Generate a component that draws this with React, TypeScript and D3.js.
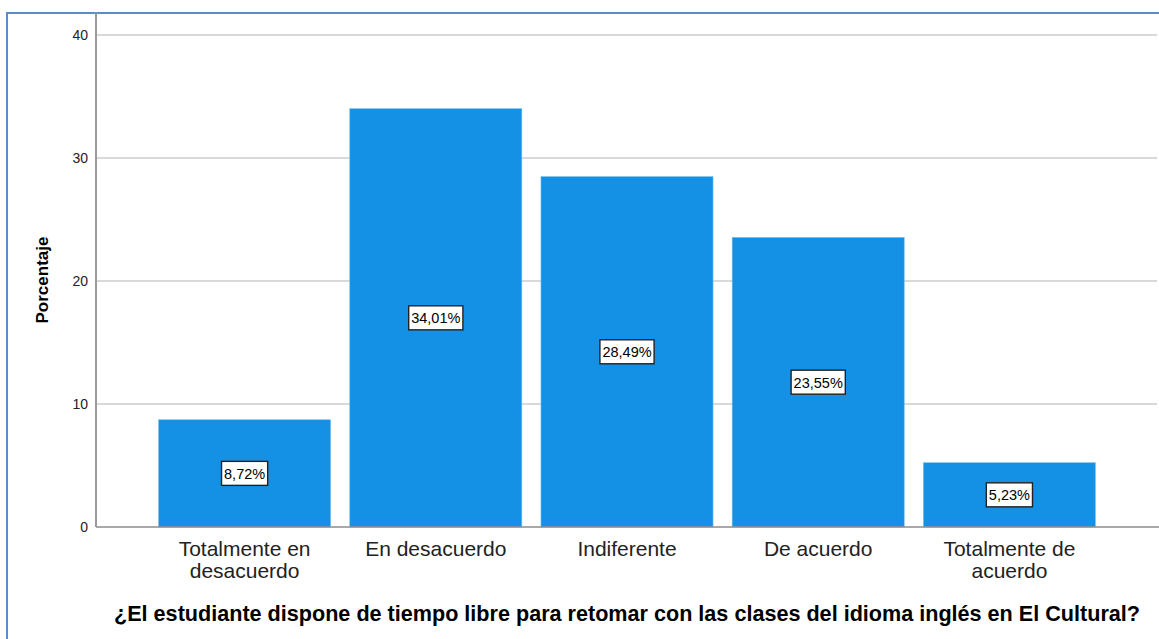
import React, { useEffect, useRef } from 'react';
import * as d3 from 'd3';

const categories = ['Totalmente en\ndesacuerdo', 'En desacuerdo', 'Indiferente', 'De acuerdo', 'Totalmente de\nacuerdo'];
const percentages = [8.72, 34.01, 28.49, 23.55, 5.23];
const yTicks = [0, 10, 20, 30, 40];

const W = 1159;
const H = 639;
const FONT = 'Arial, Liberation Sans, sans-serif';

const App = () => {
  const ref = useRef<SVGSVGElement>(null);

  useEffect(() => {
    const svg = d3.select(ref.current);
    svg.selectAll('*').remove();

    const left = 96;
    const right = 1157;
    const top = 35;
    const bottom = 527;

    const x = d3.scaleBand()
      .domain(categories)
      .range([149, 1105])
      .paddingInner(0.1)
      .paddingOuter(0.05);
    const y = d3.scaleLinear().domain([0, 40]).range([bottom, top]);

    // frame
    svg.append('path')
      .attr('d', `M7,${H + 5} L7,13 L${W + 5},13`)
      .attr('fill', 'none')
      .attr('stroke', '#5b8ccb')
      .attr('stroke-width', 2);

    // grid
    svg.append('g')
      .selectAll('line')
      .data(yTicks.filter(t => t > 0))
      .enter()
      .append('line')
      .attr('x1', left)
      .attr('x2', right)
      .attr('y1', d => y(d))
      .attr('y2', d => y(d))
      .attr('stroke', '#d9d9d9')
      .attr('stroke-width', 2);

    // bars
    svg.append('g')
      .selectAll('rect')
      .data(percentages)
      .enter()
      .append('rect')
      .attr('x', (d, i) => x(categories[i]))
      .attr('y', d => y(d))
      .attr('width', x.bandwidth())
      .attr('height', d => bottom - y(d))
      .attr('fill', '#1490e4')
      .attr('stroke', '#7cc0ee')
      .attr('stroke-width', 0.6);

    // axes
    svg.append('line')
      .attr('x1', left).attr('x2', W)
      .attr('y1', bottom).attr('y2', bottom)
      .attr('stroke', '#8c8c8c').attr('stroke-width', 1.5);
    svg.append('line')
      .attr('x1', left).attr('x2', left)
      .attr('y1', 13).attr('y2', bottom)
      .attr('stroke', '#9a9a9a').attr('stroke-width', 2);

    svg.append('g')
      .selectAll('text')
      .data(yTicks)
      .enter()
      .append('text')
      .attr('x', 88)
      .attr('y', d => y(d) + 5)
      .attr('text-anchor', 'end')
      .attr('font-family', FONT)
      .attr('font-size', 14)
      .attr('fill', '#222')
      .text(d => d);

    // bar labels
    const fmt = (v: number) => v.toFixed(2).replace('.', ',') + '%';
    const lbl = svg.append('g')
      .selectAll('g')
      .data(percentages)
      .enter()
      .append('g')
      .attr('transform', (d, i) => `translate(${x(categories[i])! + x.bandwidth() / 2},${(y(d) + bottom) / 2})`);
    const box = lbl.append('rect')
      .attr('y', -12)
      .attr('height', 24)
      .attr('fill', '#fff')
      .attr('stroke', '#222')
      .attr('stroke-width', 1.4);
    const txt = lbl.append('text')
      .attr('y', 5.5)
      .attr('text-anchor', 'middle')
      .attr('font-family', FONT)
      .attr('font-size', 14.5)
      .attr('fill', '#000')
      .text(d => fmt(d));
    txt.each(function (d, i) {
      const w = (this as SVGTextElement).getComputedTextLength() + 5;
      d3.select(box.nodes()[i]).attr('x', -w / 2).attr('width', w);
    });

    // category labels
    const cat = svg.append('g')
      .selectAll('text')
      .data(categories)
      .enter()
      .append('text')
      .attr('y', 556)
      .attr('text-anchor', 'middle')
      .attr('font-family', FONT)
      .attr('font-size', 21)
      .attr('fill', '#222');
    cat.each(function (d) {
      const t = d3.select(this);
      d.split('\n').forEach((line, i) => {
        t.append('tspan')
          .attr('x', x(d)! + x.bandwidth() / 2)
          .attr('dy', i === 0 ? 0 : 22)
          .text(line);
      });
    });

    // titles
    svg.append('text')
      .attr('transform', `translate(48,${(top + bottom) / 2 - 1}) rotate(-90)`)
      .attr('text-anchor', 'middle')
      .attr('font-family', FONT)
      .attr('font-size', 17)
      .attr('font-weight', 'bold')
      .attr('fill', '#000')
      .text('Porcentaje');

    svg.append('text')
      .attr('x', 627)
      .attr('y', 621)
      .attr('text-anchor', 'middle')
      .attr('font-family', FONT)
      .attr('font-size', 21.6)
      .attr('font-weight', 'bold')
      .attr('fill', '#000')
      .text('¿El estudiante dispone de tiempo libre para retomar con las clases del idioma inglés en El Cultural?');
  }, []);

  return (
    <svg
      ref={ref}
      width={W}
      height={H}
      style={{ position: 'absolute', left: 0, top: 0, background: '#fff' }}
    />
  );
};

export default App;
